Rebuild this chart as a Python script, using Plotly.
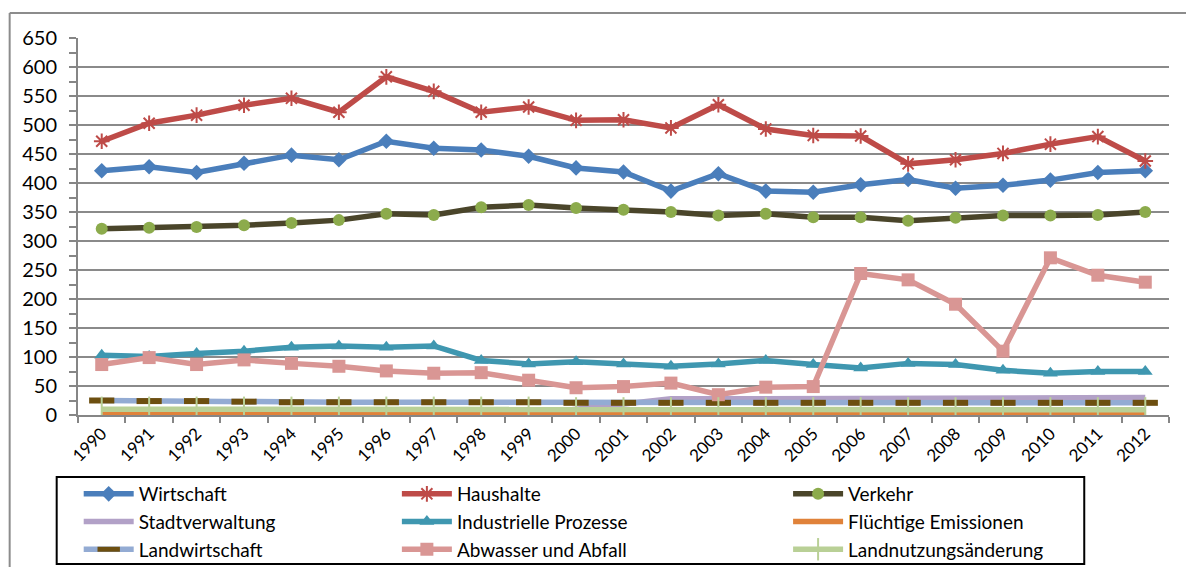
import plotly.graph_objects as go

years = [str(y) for y in range(1990, 2013)]

wirtschaft = [421, 428, 418, 434, 448, 440, 472, 460, 457, 446, 426, 419, 386, 416, 386, 384, 397, 406, 391, 396, 405, 418, 421]
haushalte = [472, 503, 517, 534, 546, 522, 583, 558, 522, 531, 508, 509, 495, 535, 493, 482, 481, 433, 440, 451, 467, 480, 438]
verkehr = [321, 323, 324, 327, 331, 336, 347, 345, 358, 362, 357, 354, 350, 344, 347, 341, 341, 335, 340, 344, 344, 345, 350]
stadtverwaltung = [1, 1, 1, 1, 1, 1, 1, 1, 1, 1, 10, 19, 28, 28, 28, 28, 28, 29, 29, 29, 30, 30, 30]
industrie = [103, 101, 106, 110, 117, 119, 117, 119, 94, 88, 92, 88, 84, 88, 94, 87, 81, 89, 87, 77, 72, 75, 75]
fluechtig = [3, 3, 3, 3, 3, 3, 3, 3, 3, 3, 2, 2, 2, 2, 2, 2, 2, 2, 2, 2, 2, 2, 2]
landwirtschaft = [25, 24, 24, 23, 22, 22, 22, 22, 22, 22, 21, 21, 21, 21, 21, 21, 21, 21, 21, 21, 21, 21, 21]
abwasser = [87, 99, 87, 95, 89, 84, 76, 72, 73, 60, 47, 49, 55, 35, 48, 49, 244, 233, 191, 110, 271, 241, 229]
landnutzung = [10, 10, 10, 10, 10, 10, 10, 10, 10, 10, 9, 9, 9, 9, 9, 9, 9, 9, 9, 9, 9, 9, 9]

names = ["Wirtschaft", "Haushalte", "Verkehr", "Stadtverwaltung", "Industrielle Prozesse",
         "Flüchtige Emissionen", "Landwirtschaft", "Abwasser und Abfall", "Landnutzungsänderung"]

FONT = "Lato, Carlito, 'Open Sans', sans-serif"

# plot area in pixels
W, H = 1186, 567
L, R, T, B = 78.3, 1168.7, 38, 415
pw, ph = R - L, B - T


def px_x(x):
    return (x - L) / pw


def px_y(y):
    return (B - y) / ph


fig = go.Figure()

styles = [
    (wirtschaft, "#4a7ebb", dict(symbol="diamond", size=12, color="#4a7ebb"), "legend"),
    (haushalte, "#be4b48", dict(symbol="asterisk-open", size=13, color="#be4b48", line=dict(width=2, color="#be4b48")), "legend2"),
    (verkehr, "#4a452a", dict(symbol="circle", size=12, color="#8cab4c"), "legend3"),
    (stadtverwaltung, "#b2a1c7", dict(size=1, opacity=0), "legend"),
    (industrie, "#3f97b0", dict(symbol="triangle-up", size=13, color="#3f97b0"), "legend2"),
    (fluechtig, "#e0823a", dict(size=1, opacity=0), "legend3"),
    (landwirtschaft, "#93abd3", dict(symbol="line-ew", size=18, color="#6d4f10", line=dict(width=6, color="#6d4f10")), "legend"),
    (abwasser, "#d99694", dict(symbol="square", size=13, color="#d99694"), "legend2"),
    (landnutzung, "#b9d096", dict(symbol="line-ns", size=18, color="#b9d096", line=dict(width=2, color="#b9d096")), "legend3"),
]

for name, (vals, lc, mk, lg) in zip(names, styles):
    fig.add_trace(go.Scatter(
        x=years, y=vals, name=name, mode="lines+markers",
        line=dict(color=lc, width=5.5), marker=mk, legend=lg,
    ))

legend_common = dict(
    font=dict(family=FONT, size=19, color="#000000"),
    bgcolor="rgba(0,0,0,0)", borderwidth=0, orientation="v",
    xanchor="left", yanchor="top", y=px_y(475), itemwidth=50,
    tracegroupgap=0, itemclick=False,
)

fig.update_layout(
    width=W, height=H,
    margin=dict(l=L, r=W - R, t=T, b=H - B, pad=0, autoexpand=False),
    paper_bgcolor="white", plot_bgcolor="white",
    font=dict(family=FONT, color="#000000"),
    showlegend=True,
    legend=dict(legend_common, x=px_x(79)),
    legend2=dict(legend_common, x=px_x(397)),
    legend3=dict(legend_common, x=px_x(788)),
    xaxis=dict(
        type="category", range=[-0.5, 22.5], showgrid=False, automargin=False,
        showline=True, linecolor="#868686", linewidth=2,
        ticks="outside", tickson="boundaries", ticklen=6, tickcolor="#868686", tickwidth=2,
        tickangle=-45, tickfont=dict(family=FONT, size=17, color="#000000"),
        zeroline=False,
    ),
    yaxis=dict(
        range=[0, 650], dtick=50, showgrid=True, gridcolor="#8a8a8a", gridwidth=1.5,
        showline=True, linecolor="#868686", linewidth=2, automargin=False,
        ticks="outside", ticklen=7, tickcolor="#868686", tickwidth=2,
        minor=dict(dtick=25, ticks="outside", ticklen=7, tickcolor="#868686", tickwidth=2, showgrid=False),
        tickfont=dict(family=FONT, size=20, color="#000000"),
        ticklabelstandoff=8, zeroline=False,
    ),
    shapes=[
        # outer chart frame (top & left)
        dict(type="line", xref="paper", yref="paper", x0=px_x(10), x1=px_x(1190), y0=px_y(13), y1=px_y(13),
             line=dict(color="#8c8c8c", width=2)),
        dict(type="line", xref="paper", yref="paper", x0=px_x(10), x1=px_x(10), y0=px_y(13), y1=px_y(570),
             line=dict(color="#8c8c8c", width=2)),
        # legend box
        dict(type="rect", xref="paper", yref="paper", x0=px_x(57), x1=px_x(1084), y0=px_y(564), y1=px_y(477),
             line=dict(color="#000000", width=2), fillcolor="rgba(0,0,0,0)"),
    ],
)

fig.write_html("out.html")
